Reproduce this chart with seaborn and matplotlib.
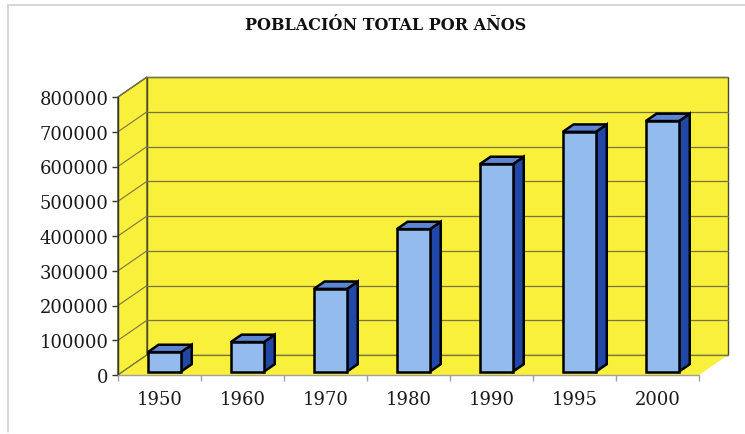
"""Población total por años - barras con aspecto 3D (estilo Excel)."""
import matplotlib
matplotlib.use("Agg")
import matplotlib.pyplot as plt
from matplotlib.patches import Polygon
from matplotlib.lines import Line2D
import seaborn as sns
import pandas as pd

years = ["1950", "1960", "1970", "1980", "1990", "1995", "2000"]
population = [56000, 85000, 238000, 410000, 597000, 690000, 721000]
y_ticks = [0, 100000, 200000, 300000, 400000, 500000, 600000, 700000, 800000]
title = "POBLACIÓN TOTAL POR AÑOS"

YELLOW = "#F8F03A"
FRONT = "#94BBEE"
SIDE = "#2148A6"
TOP = "#5C86D4"
GRID = "#7a7540"

sns.set_theme(style="white")
plt.rcParams["font.family"] = ["DejaVu Serif"]

df = pd.DataFrame({"year": years, "pop": population})

fig = plt.figure(figsize=(7.45, 4.35), dpi=100)
W, H = 745, 435
ax = fig.add_axes([118 / W, (H - 376) / H, (699 - 118) / W, (376 - 98) / H])
ax.set_facecolor("none")

sns.barplot(data=df, x="year", y="pop", color=FRONT, width=0.4,
            edgecolor="black", linewidth=1.8, saturation=1, ax=ax, zorder=5)

n = len(years)
ymax = y_ticks[-1]
ax.set_xlim(-0.5, n - 0.5)
ax.set_ylim(0, ymax)

# depth offsets (pixels -> data units)
sx = (699 - 118) / n
sy = (376 - 98) / ymax
DX, DY = 29 / sx, 20 / sy
x0, x1 = -0.5, n - 0.5

def poly(pts, fc, ec="none", lw=0, z=1):
    ax.add_patch(Polygon(pts, closed=True, facecolor=fc, edgecolor=ec,
                         linewidth=lw, clip_on=False, zorder=z))

# back wall, side wall, floor
poly([(x0 + DX, DY), (x1 + DX, DY), (x1 + DX, ymax + DY), (x0 + DX, ymax + DY)],
     YELLOW, "#4a4a2a", 1.0, 0.5)
poly([(x0, 0), (x0 + DX, DY), (x0 + DX, ymax + DY), (x0, ymax)],
     YELLOW, "#4a4a2a", 1.0, 0.6)
poly([(x0, 0), (x1, 0), (x1 + DX, DY), (x0 + DX, DY)], YELLOW, "none", 0, 0.6)

# gridlines on back wall and side wall
for t in y_ticks:
    ax.add_line(Line2D([x0 + DX, x1 + DX], [t + DY, t + DY], color=GRID,
                       lw=0.9, clip_on=False, zorder=1))
    ax.add_line(Line2D([x0, x0 + DX], [t, t + DY], color=GRID,
                       lw=0.8, clip_on=False, zorder=1))

# front axis lines
ax.add_line(Line2D([x0, x0], [0, ymax], color="#333333", lw=1.0, clip_on=False, zorder=2))
ax.add_line(Line2D([x0, x1], [0, 0], color="#a0a0a0", lw=1.0, clip_on=False, zorder=2))

# bars: shift front face into depth, then add side and top faces
f0, d = 0.17, 0.37
for p, v in zip(ax.patches[:n], population):
    p.set_x(p.get_x() + f0 * DX)
    p.set_y(f0 * DY)
    p.set_clip_on(False)
    bx0 = p.get_x()
    bx1 = bx0 + p.get_width()
    by0 = f0 * DY
    top = by0 + v
    poly([(bx1, by0), (bx1 + d * DX, by0 + d * DY), (bx1 + d * DX, top + d * DY), (bx1, top)],
         SIDE, "black", 1.8, 4)
    poly([(bx0, top), (bx1, top), (bx1 + d * DX, top + d * DY), (bx0 + d * DX, top + d * DY)],
         TOP, "black", 1.8, 4)

# ticks and labels
for s in ax.spines.values():
    s.set_visible(False)
ax.set_yticks(y_ticks)
ax.set_yticklabels([str(t) for t in y_ticks], fontsize=13, color="#1a1a1a")
ax.set_xticks(range(n))
ax.set_xticklabels(years, fontsize=13, color="#1a1a1a")
ax.set_xticks([i - 0.5 for i in range(n + 1)], minor=True)
ax.tick_params(axis="y", which="major", left=True, length=4, width=1,
               color="#333333", pad=3)
ax.tick_params(axis="x", which="major", bottom=False, pad=5)
ax.tick_params(axis="x", which="minor", bottom=True, length=4, width=1, color="#a0a0a0")
ax.set_xlabel("")
ax.set_ylabel("")

fig.text(0.517, 1 - 25 / H, title, ha="center", va="center",
         fontsize=11.5, fontweight="bold", color="#111111")

# light chart-area border (left and top)
fig.add_artist(Line2D([8 / W, 8 / W], [1 - 6 / H, 1 - 433 / H], color="#cfcfcf",
                      lw=1.2, transform=fig.transFigure))
fig.add_artist(Line2D([8 / W, 1.0], [1 - 6 / H, 1 - 6 / H], color="#cfcfcf",
                      lw=1.2, transform=fig.transFigure))

fig.savefig("out.png", dpi=100, facecolor="white")
